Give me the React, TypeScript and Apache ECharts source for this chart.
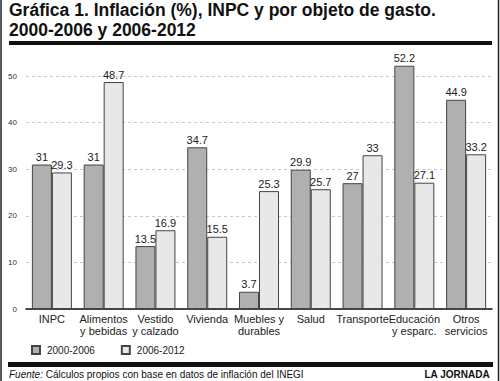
import React, { useEffect, useRef } from "react";
import * as echarts from "echarts";

const categories = [
  "INPC",
  "Alimentos\ny bebidas",
  "Vestido\ny calzado",
  "Vivienda",
  "Muebles y\ndurables",
  "Salud",
  "Transporte",
  "Educación\ny esparc.",
  "Otros\nservicios",
];
const series2000 = [31, 31, 13.5, 34.7, 3.7, 29.9, 27, 52.2, 44.9];
const series2006 = [29.3, 48.7, 16.9, 15.5, 25.3, 25.7, 33, 27.1, 33.2];
const seriesNames = ["2000-2006", "2006-2012"];
const yTicks = [0, 10, 20, 30, 40, 50];

const titleLine1 = "Gráfica 1. Inflación (%), INPC y por objeto de gasto.";
const titleLine2 = "2000-2006 y 2006-2012";
const sourceLabel = "Fuente:";
const sourceText = " Cálculos propios con base en datos de inflación del INEGI";
const brand = "LA JORNADA";

const NARROW = "'Liberation Sans Narrow', 'Liberation Sans', Arial, sans-serif";
const SANS = "'Liberation Sans', Arial, sans-serif";

export default function App() {
  const ref = useRef<HTMLDivElement>(null);
  useEffect(() => {
    document.body.style.margin = "0";
    const chart = echarts.init(ref.current!, null, { renderer: "svg" });
    const labelStyle = {
      show: true,
      position: "top",
      distance: 2,
      color: "#222",
      fontFamily: SANS,
      fontSize: 11,
    };
    chart.setOption({
      animation: false,
      backgroundColor: "#fff",
      grid: { left: 26, right: 8, top: 76, bottom: 72 },
      legend: {
        left: 26,
        top: 340,
        itemWidth: 8,
        itemHeight: 8,
        itemGap: 26,
        icon: "rect",
        textStyle: { fontFamily: SANS, fontSize: 10, color: "#222", padding: [0, 0, 0, 2] },
        data: seriesNames,
      },
      xAxis: {
        type: "category",
        data: categories,
        axisLine: { lineStyle: { color: "#111", width: 1.5 } },
        axisTick: { show: false },
        axisLabel: {
          interval: 0,
          margin: 4,
          color: "#222",
          fontFamily: NARROW,
          fontSize: 11,
          lineHeight: 12,
        },
      },
      yAxis: {
        type: "value",
        min: yTicks[0],
        max: yTicks[yTicks.length - 1],
        interval: 10,
        axisLine: { show: false },
        axisTick: { show: false },
        axisLabel: { margin: 9, color: "#333", fontFamily: SANS, fontSize: 8 },
        splitLine: { lineStyle: { color: "#c8c8c8", type: [3, 3], width: 1 } },
      },
      series: [
        {
          name: seriesNames[0],
          type: "bar",
          data: series2000,
          barWidth: 20,
          barGap: "0%",
          clip: false,
          itemStyle: { color: "#b0b0b0", borderColor: "#444", borderWidth: 1 },
          label: labelStyle,
        },
        {
          name: seriesNames[1],
          type: "bar",
          data: series2006,
          barWidth: 20,
          barGap: "0%",
          clip: false,
          itemStyle: { color: "#e8e8e8", borderColor: "#444", borderWidth: 1 },
          label: labelStyle,
        },
      ],
      graphic: [
        { type: "line", shape: { x1: 1, y1: 0, x2: 1, y2: 381 }, style: { stroke: "#222", lineWidth: 1.5 } },
        { type: "line", shape: { x1: 498.5, y1: 0, x2: 498.5, y2: 381 }, style: { stroke: "#222", lineWidth: 1.5 } },
        {
          type: "text",
          left: 9,
          top: 1,
          style: { text: titleLine1, font: `bold 17.5px ${NARROW}`, fill: "#111" },
        },
        {
          type: "text",
          left: 9,
          top: 21,
          style: { text: titleLine2, font: `bold 17.5px ${NARROW}`, fill: "#111" },
        },
        { type: "rect", shape: { x: 9, y: 41, width: 483, height: 4 }, style: { fill: "#111" } },
        { type: "rect", shape: { x: 8, y: 362, width: 485, height: 5 }, style: { fill: "#111" } },
        {
          type: "text",
          left: 9,
          top: 369,
          style: {
            text: `{i|${sourceLabel}}{n|${sourceText}}`,
            rich: {
              i: { fontStyle: "italic", fontFamily: SANS, fontSize: 10, fill: "#111" },
              n: { fontFamily: SANS, fontSize: 10, fill: "#111" },
            },
          },
        },
        {
          type: "text",
          right: 10,
          top: 369,
          style: { text: brand, font: `bold 10px ${SANS}`, fill: "#111" },
        },
      ],
    });
    return () => chart.dispose();
  }, []);
  return <div ref={ref} style={{ width: 500, height: 381 }} />;
}
